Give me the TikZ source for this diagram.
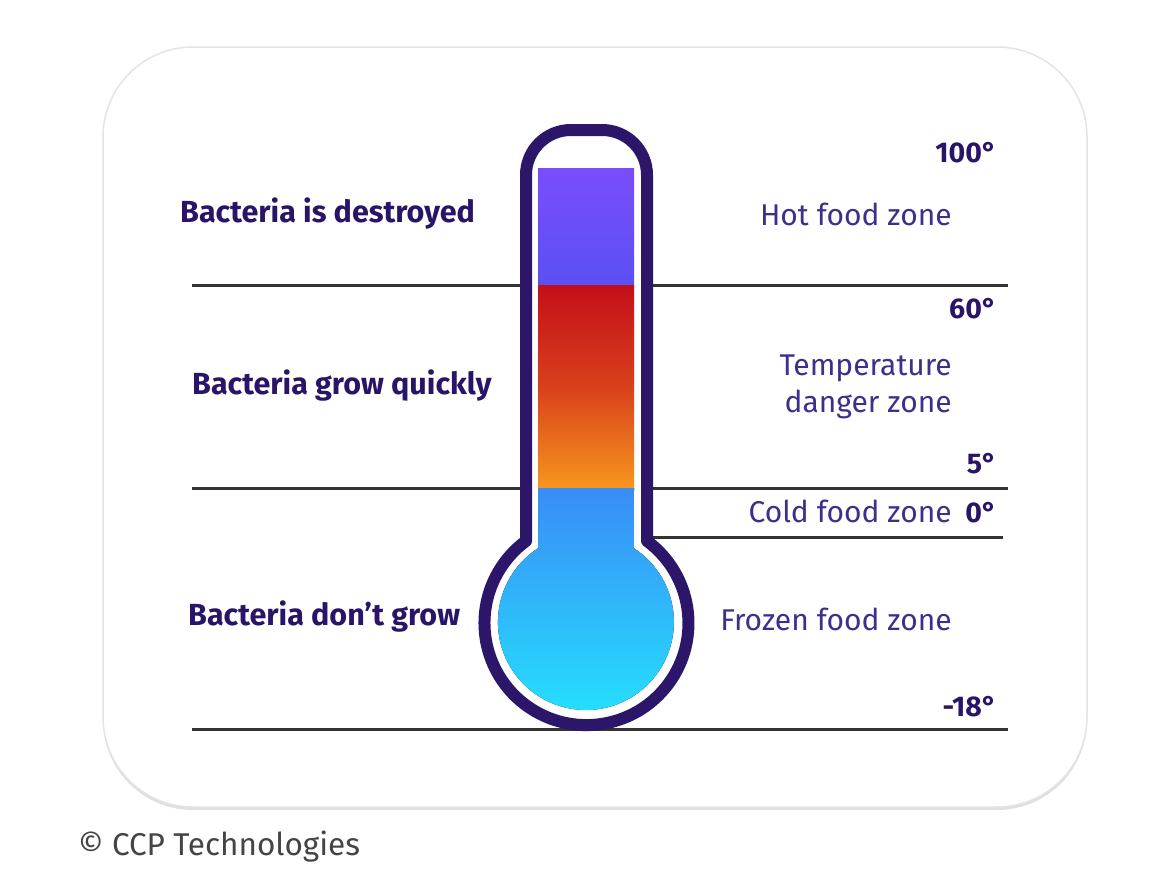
\documentclass[tikz,border=0pt]{standalone}
\usepackage{fontspec}
\setmainfont{Fira Sans}
\usetikzlibrary{shadows}
\definecolor{thermo}{HTML}{2B1669}
\definecolor{boldtxt}{HTML}{2A1467}
\definecolor{regtxt}{HTML}{3F2E8C}
\definecolor{rule}{HTML}{333333}
\definecolor{cardline}{HTML}{E4E4E4}
\definecolor{purpleT}{HTML}{7A4DFC}
\definecolor{purpleB}{HTML}{5A50F4}
\definecolor{redT}{HTML}{C40F1A}
\definecolor{redM}{HTML}{D8401B}
\definecolor{orangeB}{HTML}{F8951F}
\definecolor{blueT}{HTML}{3A8CF6}
\definecolor{blueB}{HTML}{24E2FE}
\definecolor{copy}{HTML}{444444}
\begin{document}
\begin{tikzpicture}[x=1pt,y=-1pt,
  rulestyle/.style={draw=rule,line width=3pt},
  boldlab/.style={text=boldtxt,font=\fontsize{30.5}{36}\selectfont\bfseries,inner sep=0pt},
  deglab/.style={text=boldtxt,font=\fontsize{28.5}{34}\selectfont\bfseries,inner sep=0pt},
  reglab/.style={text=regtxt,font=\fontsize{30}{36}\selectfont,inner sep=0pt}]
\useasboundingbox (0,0) rectangle (1160,886);
% card
\path[fill=white,draw=cardline,line width=1.5pt,rounded corners=90pt,
  drop shadow={shadow xshift=0pt,shadow yshift=-3pt,opacity=0.25}]
  (103,47) rectangle (1087,807);
% rules
\coordinate (r1a) at (192,285); \coordinate (r1b) at (1008,285);
\coordinate (r2a) at (192,488); \coordinate (r2b) at (1008,488);
\coordinate (r3a) at (650,537); \coordinate (r3b) at (1003,537);
\coordinate (r4a) at (192,729); \coordinate (r4b) at (1008,729);
\draw[rulestyle] (r1a) -- (r1b);
\draw[rulestyle] (r2a) -- (r2b);
\draw[rulestyle] (r3a) -- (r3b);
\draw[rulestyle] (r4a) -- (r4b);
% thermometer outline
\draw[draw=thermo,fill=white,line width=12pt,line join=round]
  (526,541) -- (526,175) arc[start angle=180,end angle=270,radius=45]
  -- (602,130) arc[start angle=270,end angle=360,radius=45]
  -- (647,541) arc[start angle=-53.6,end angle=233.6,radius=102] -- cycle;
% fills
\fill[top color=purpleT,bottom color=purpleB] (538,168) rectangle (634,285);
\fill[top color=redT,bottom color=orangeB,middle color=redM] (538,285) rectangle (634,488);
\fill[top color=blueT,bottom color=blueB]
  (538,488) -- (538,548.2) arc[start angle=237,end angle=-57,radius=88] -- (634,488) -- cycle;
% left labels
\node[boldlab,anchor=base west] (l1) at (180,222) {Bacteria is destroyed};
\node[boldlab,anchor=base west] (l2) at (192,394) {Bacteria grow quickly};
\node[boldlab,anchor=base west] (l3) at (188,625) {Bacteria don’t grow};
% right labels
\node[deglab,anchor=base east] (t100) at (997,162) {100°};
\node[reglab,anchor=base east] (z1) at (952,225) {Hot food zone};
\node[deglab,anchor=base east] (t60) at (997,318) {60°};
\node[reglab,anchor=base east] (z2a) at (952,375) {Temperature};
\node[reglab,anchor=base east] (z2b) at (952,412) {danger zone};
\node[deglab,anchor=base east] (t5) at (997,473) {5°};
\node[reglab,anchor=base east] (z3) at (952,522) {Cold food zone};
\node[deglab,anchor=base east] (t0) at (997,522) {0°};
\node[reglab,anchor=base east] (z4) at (952,630) {Frozen food zone};
\node[deglab,anchor=base east] (tm18) at (997,716) {-18°};
\node[text=copy,font=\fontsize{31.5}{36}\selectfont,inner sep=0pt,anchor=base west] (cp) at (78,855) {© CCP Technologies};
\end{tikzpicture}
\end{document}
